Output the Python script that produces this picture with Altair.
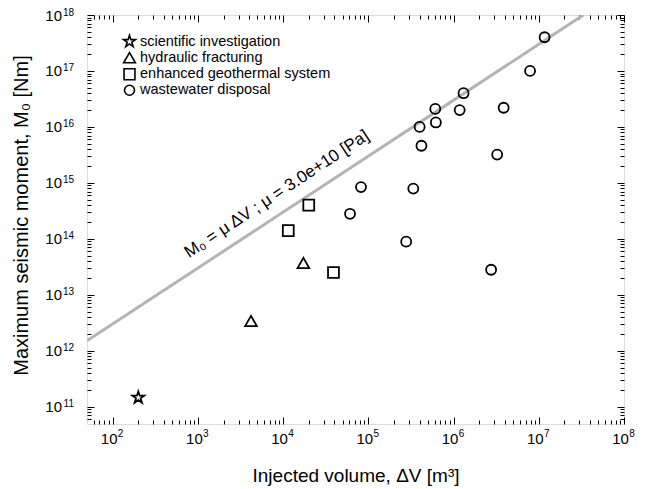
import altair as alt
import pandas as pd

# ---- data ----
categories = ["scientific investigation", "hydraulic fracturing",
              "enhanced geothermal system", "wastewater disposal"]

si_volume = [200]
si_moment = [1.45e11]
hf_volume = [4200, 17300]
hf_moment = [3.4e12, 3.7e13]
egs_volume = [11500, 20000, 39000]
egs_moment = [1.4e14, 4.0e14, 2.5e13]
wd_volume = [61000, 82000, 2.78e5, 3.37e5, 4.0e5, 4.2e5, 6.1e5, 6.2e5,
             1.18e6, 1.31e6, 2.76e6, 3.25e6, 3.87e6, 7.9e6, 1.17e7]
wd_moment = [2.8e14, 8.4e14, 8.9e13, 7.9e14, 1.0e16, 4.6e15, 2.1e16, 1.2e16,
             2.0e16, 4.0e16, 2.8e13, 3.2e15, 2.2e16, 1.0e17, 4.0e17]

line_volume = [50, 3.33e7]
line_moment = [1.5e12, 1.0e18]

annot_volume = [9.1e3]
annot_moment = [5.3e14]
annot_text = ["M\u2080 = \u03bc \u0394V ;  \u03bc = 3.0e+10 [Pa]"]

x_major = [1e2, 1e3, 1e4, 1e5, 1e6, 1e7, 1e8]
x_minor = [60, 70, 80, 90] + [m * 10 ** k for k in range(2, 8) for m in range(2, 10)]
y_major = [1e11, 1e12, 1e13, 1e14, 1e15, 1e16, 1e17, 1e18]
y_minor = [6e10, 7e10, 8e10, 9e10] + [m * 10 ** k for k in range(11, 18) for m in range(2, 10)]

star = ("M0,-1L0.2245,-0.309L0.951,-0.309L0.363,0.118L0.588,0.809L0,0.382"
        "L-0.588,0.809L-0.363,0.118L-0.951,-0.309L-0.2245,-0.309Z")
shapes = [star, "triangle-up", "square", "circle"]
sizes = [155, 100, 42, 67]

FONT = "Liberation Sans"

pts = pd.DataFrame({
    "volume": si_volume + hf_volume + egs_volume + wd_volume,
    "moment": si_moment + hf_moment + egs_moment + wd_moment,
    "type": [categories[0]] * len(si_volume) + [categories[1]] * len(hf_volume)
            + [categories[2]] * len(egs_volume) + [categories[3]] * len(wd_volume),
})
line_df = pd.DataFrame({"volume": line_volume, "moment": line_moment})
annot_df = pd.DataFrame({"volume": annot_volume, "moment": annot_moment, "label": annot_text})

xs = alt.Scale(type="log", domain=[50, 1e8], nice=False)
ys = alt.Scale(type="log", domain=[4.9e10, 1e18], nice=False)


def tick_axis(orient, values, size):
    return alt.Axis(orient=orient, values=values, tickSize=size, offset=-size,
                    domain=False, grid=False, labels=False, ticks=True,
                    tickColor="black", tickWidth=1, title=None)


# bottom / left major ticks with "10" labels and titles
x_main = alt.Axis(orient="bottom", values=x_major, tickSize=7, offset=-7,
                  domain=False, grid=False, ticks=True, tickColor="black", tickWidth=1,
                  labelExpr="'10'", labelFont=FONT, labelFontSize=15, labelColor="black",
                  labelPadding=7, labelOffset=-4, labelFlush=False, labelOverlap=False,
                  title="Injected volume, \u0394V [m\u00b3]", titleFont=FONT,
                  titleFontSize=19, titleFontWeight="normal", titleColor="black",
                  titlePadding=20)
y_main = alt.Axis(orient="left", values=y_major, tickSize=7, offset=-7,
                  domain=False, grid=False, ticks=True, tickColor="black", tickWidth=1,
                  labelExpr="'10'", labelFont=FONT, labelFontSize=15, labelColor="black",
                  labelPadding=25.5, labelFlush=False, labelOverlap=False,
                  title="Maximum seismic moment, M\u2080 [Nm]", titleFont=FONT,
                  titleFontSize=20, titleFontWeight="normal", titleColor="black",
                  titlePadding=13, titleY=200)
# exponent labels
exp_expr = "format(round(log(datum.value) / LN10), 'd')"
x_exp = alt.Axis(orient="bottom", values=x_major, ticks=False, tickSize=0, domain=False,
                 grid=False, labelExpr=exp_expr, labelFont=FONT, labelFontSize=10,
                 labelColor="black", labelPadding=4, labelOffset=7.5, labelFlush=False,
                 labelOverlap=False, title=None)
y_exp = alt.Axis(orient="left", values=y_major, ticks=False, tickSize=0, domain=False,
                 grid=False, labelExpr=exp_expr, labelFont=FONT, labelFontSize=10,
                 labelColor="black", labelPadding=13.5, labelOffset=-3, labelFlush=False,
                 labelOverlap=False, title=None)

legend = alt.Legend(orient="none", legendX=35, legendY=19, title=None,
                    labelFont=FONT, labelFontSize=14.5, labelColor="black",
                    labelOffset=3, labelLimit=400, rowPadding=-1.5, padding=0,
                    symbolStrokeWidth=1.6, symbolStrokeColor="black",
                    symbolFillColor="transparent")

line = alt.Chart(line_df).mark_line(color="#b4b4b4", strokeWidth=3, clip=True).encode(
    x=alt.X("volume:Q", scale=xs, axis=x_main),
    y=alt.Y("moment:Q", scale=ys, axis=y_main),
)

points = alt.Chart(pts).mark_point(filled=False, color="black", strokeWidth=1.8,
                                   opacity=1).encode(
    x=alt.X("volume:Q", scale=xs, axis=x_exp),
    y=alt.Y("moment:Q", scale=ys, axis=y_exp),
    shape=alt.Shape("type:N", scale=alt.Scale(domain=categories, range=shapes), legend=legend),
    size=alt.Size("type:N", scale=alt.Scale(domain=categories, range=sizes), legend=legend),
)

annot = alt.Chart(annot_df).mark_text(angle=326.5, font=FONT, fontSize=17, color="black",
                                      align="center", baseline="alphabetic").encode(
    x=alt.X("volume:Q", scale=xs, axis=tick_axis("bottom", x_minor, 4)),
    y=alt.Y("moment:Q", scale=ys, axis=tick_axis("left", y_minor, 4)),
    text="label:N",
)

top_major = alt.Chart(line_df).mark_line(opacity=0).encode(
    x=alt.X("volume:Q", scale=xs, axis=tick_axis("top", x_major, 7)),
    y=alt.Y("moment:Q", scale=ys, axis=tick_axis("right", y_major, 7)),
)
top_minor = alt.Chart(line_df).mark_line(opacity=0).encode(
    x=alt.X("volume:Q", scale=xs, axis=tick_axis("top", x_minor, 4)),
    y=alt.Y("moment:Q", scale=ys, axis=tick_axis("right", y_minor, 4)),
)

chart = alt.layer(line, points, annot, top_major, top_minor).resolve_axis(
    x="independent", y="independent"
).properties(
    width=537, height=409, autosize="none",
    padding={"left": 79, "top": 7, "right": 15, "bottom": 62},
).configure_view(stroke="black", strokeWidth=1.2).configure(font=FONT, background="white")

chart.save("out.html", embed_options={"renderer": "svg", "actions": False})
